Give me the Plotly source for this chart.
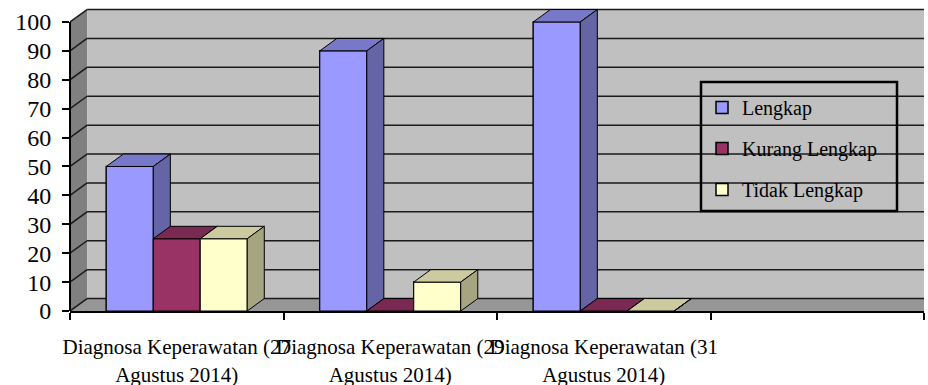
import plotly.graph_objects as go

# ---- data ----
categories = [
    "Diagnosa Keperawatan (27<br>Agustus 2014)",
    "Diagnosa Keperawatan (29<br>Agustus 2014)",
    "Diagnosa Keperawatan (31<br>Agustus 2014)",
]
series_names = ["Lengkap", "Kurang Lengkap", "Tidak Lengkap"]
lengkap = [50, 90, 100]
kurang_lengkap = [25, 0, 0]
tidak_lengkap = [25, 10, 0]
y_ticks = [0, 10, 20, 30, 40, 50, 60, 70, 80, 90, 100]

series_values = [lengkap, kurang_lengkap, tidak_lengkap]
front_colors = ["#9999FF", "#993366", "#FFFFCC"]
top_colors = ["#7878C8", "#7A2952", "#CBCB9F"]
side_colors = ["#6464A6", "#5C1F3D", "#A5A582"]

FONT = "'Liberation Serif', Tinos, 'Times New Roman', 'DejaVu Serif', serif"
bar_w = 0.22
offsets = [-0.33, -0.11, 0.11]
dx, dy = 0.08, 4.3          # 3-D depth in axis units
x_lo, x_hi = -0.5, 3.5
y_top = 107.6

xs = list(range(len(categories)))
fig = go.Figure()

# legend-bearing bar traces (front faces)
for s, name in enumerate(series_names):
    fig.add_trace(go.Bar(
        x=xs, y=series_values[s], name=name, width=bar_w, offset=offsets[s],
        marker=dict(color=front_colors[s], line=dict(color="black", width=1.5)),
        legendgroup=name, hoverinfo="skip",
    ))

# 3-D faces drawn in painter's order
def poly(xy, color):
    px = [p[0] for p in xy] + [xy[0][0]]
    py = [p[1] for p in xy] + [xy[0][1]]
    fig.add_trace(go.Scatter(
        x=px, y=py, mode="lines", fill="toself", fillcolor=color,
        line=dict(color="black", width=1), showlegend=False, hoverinfo="skip",
    ))

for i in xs:
    for s in range(len(series_names)):
        v = series_values[s][i]
        L = i + offsets[s]
        R = L + bar_w
        poly([(L, 0), (R, 0), (R, v), (L, v)], front_colors[s])
        poly([(L, v), (R, v), (R + dx, v + dy), (L + dx, v + dy)], top_colors[s])
        poly([(R, 0), (R + dx, dy), (R + dx, v + dy), (R, v)], side_colors[s])

shapes = []
# side wall
shapes.append(dict(type="path", xref="x", yref="y", layer="below",
                   path=f"M{x_lo},0 L{x_lo+dx},{dy} L{x_lo+dx},{100+dy} L{x_lo},100 Z",
                   fillcolor="#808080", line=dict(width=0)))
# back wall
shapes.append(dict(type="rect", xref="x", yref="y", layer="below",
                   x0=x_lo + dx, x1=x_hi + dx, y0=dy, y1=100 + dy,
                   fillcolor="#C0C0C0", line=dict(width=0)))
# floor
shapes.append(dict(type="path", xref="x", yref="y", layer="below",
                   path=f"M{x_lo},0 L{x_hi},0 L{x_hi+dx},{dy} L{x_lo+dx},{dy} Z",
                   fillcolor="#969696", line=dict(width=0)))
# gridlines on walls
for t in y_ticks:
    shapes.append(dict(type="line", xref="x", yref="y", layer="below",
                       x0=x_lo, y0=t, x1=x_lo + dx, y1=t + dy,
                       line=dict(color="#1a1a1a", width=1.5)))
    shapes.append(dict(type="line", xref="x", yref="y", layer="below",
                       x0=x_lo + dx, y0=t + dy, x1=x_hi + dx, y1=t + dy,
                       line=dict(color="#1a1a1a", width=1.5)))
# y axis line
shapes.append(dict(type="line", xref="paper", yref="y", x0=0, x1=0, y0=0, y1=100,
                   line=dict(color="black", width=2)))
# legend box
W, H, ML, MB = 928, 385, 70, 74
PW, PH = W - ML - 4, H - MB
def px2x(p): return (p - ML) / PW
def px2y(p): return (PH - p) / PH
shapes.append(dict(type="rect", xref="paper", yref="paper",
                   x0=px2x(701), x1=px2x(897), y0=px2y(211), y1=px2y(82),
                   line=dict(color="black", width=2.5)))

fig.update_layout(
    width=W, height=H, autosize=False,
    margin=dict(l=ML, r=4, t=0, b=MB, pad=0),
    paper_bgcolor="white", plot_bgcolor="white",
    barmode="overlay",
    shapes=shapes,
    font=dict(family=FONT, color="black"),
    showlegend=True,
    legend=dict(x=px2x(702), xanchor="left", y=px2y(88), yanchor="top",
                bgcolor="rgba(0,0,0,0)", borderwidth=0,
                font=dict(family=FONT, size=20, color="black"),
                tracegroupgap=12, itemclick=False, itemdoubleclick=False),
    xaxis=dict(range=[x_lo, x_hi], tickvals=xs, ticktext=categories, tickangle=0,
               ticks="", showgrid=False, zeroline=False, automargin=False,
               showline=True, linecolor="black", linewidth=2,
               tickfont=dict(family=FONT, size=21, color="black"),
               ticklabelstandoff=16,
               minor=dict(tickvals=[-0.5, 0.5, 1.5, 2.5, 3.5], ticks="outside",
                          ticklen=7, tickwidth=2, tickcolor="black", showgrid=False)),
    yaxis=dict(range=[0, y_top], tickvals=y_ticks, ticks="outside", ticklen=7,
               tickwidth=2, tickcolor="black", showgrid=False, zeroline=False,
               showline=False, automargin=False,
               tickfont=dict(family=FONT, size=24, color="black"),
               ticklabelstandoff=6),
)

fig.write_html("out.html")
